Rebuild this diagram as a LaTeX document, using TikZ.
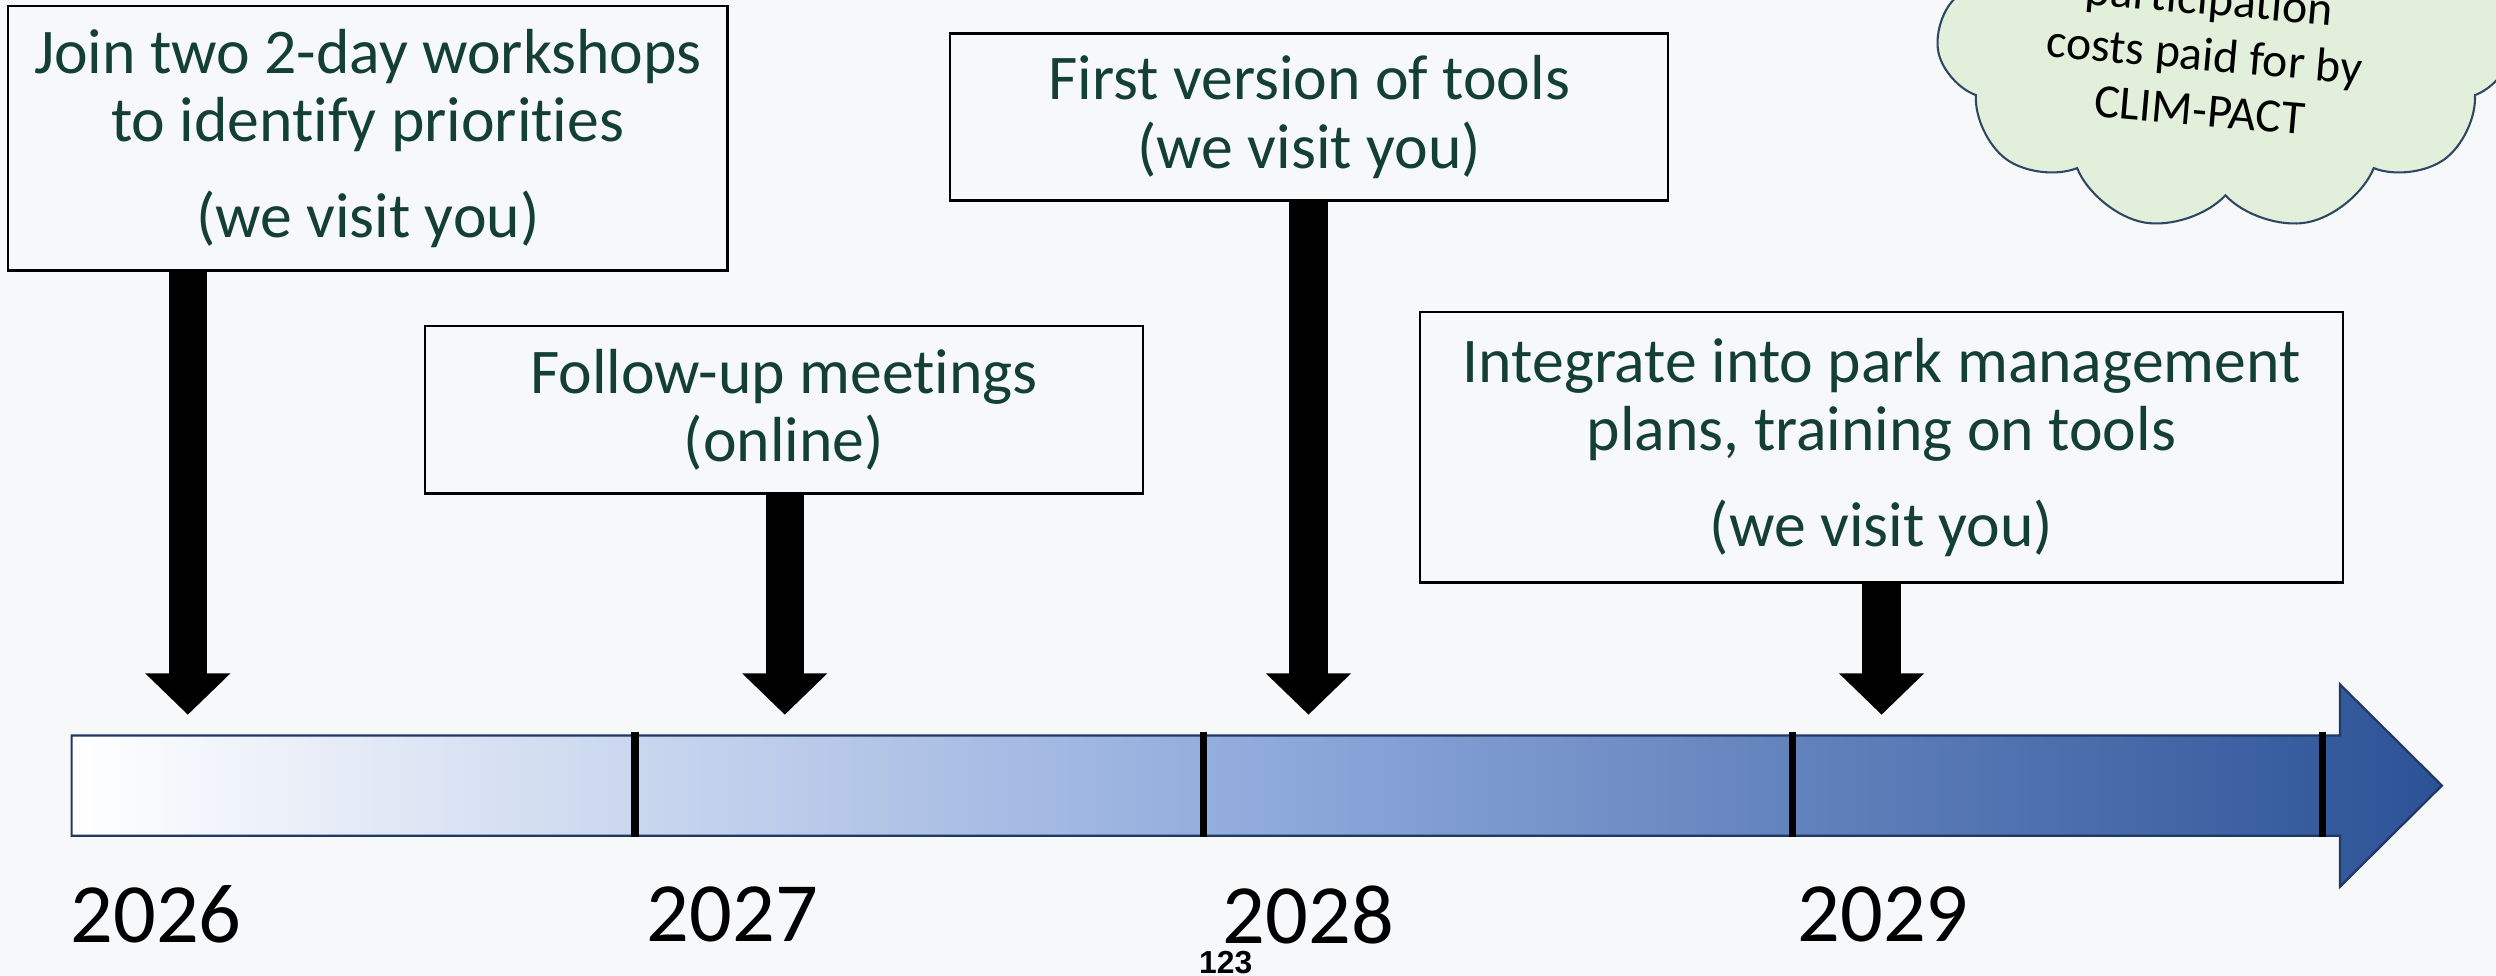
\documentclass[tikz,border=0pt]{standalone}
\usepackage{fontspec}
\setmainfont{Carlito}[Ligatures=NoCommon]
\newfontfamily\arialfont{Liberation Sans}
\usetikzlibrary{arrows.meta,shapes.symbols}
\definecolor{bgc}{RGB}{247,248,250}
\definecolor{txtgreen}{RGB}{20,64,52}
\definecolor{navy}{RGB}{31,56,100}
\definecolor{midblue}{RGB}{143,170,220}
\definecolor{darkblue}{RGB}{44,82,150}
\definecolor{cloudfill}{RGB}{226,239,218}
\definecolor{cloudline}{RGB}{45,70,100}
\pgfdeclarehorizontalshading{tlshade}{100bp}{color(0bp)=(white); color(25bp)=(white); color(50bp)=(midblue); color(75bp)=(darkblue); color(100bp)=(darkblue)}
\begin{document}
\begin{tikzpicture}[x=0.5pt,y=-0.5pt,
  box/.style={draw=black,line width=0.7pt,fill=bgc,inner sep=0pt,align=center,text=txtgreen,font=\fontsize{20pt}{21.5pt}\selectfont},
  downarrow/.style={line width=12pt,-{Triangle[width=26pt,length=13pt]}},
  yeartick/.style={line width=2.3pt},
  year/.style={font=\fontsize{26.5pt}{30pt}\selectfont,inner sep=0pt,text=black},
  timeline/.style={draw=navy,line width=0.7pt,shading=tlshade}
]
\clip (0,0) rectangle (1568,613);
\fill[bgc] (0,0) rectangle (1568,613);

% cloud
\node[cloud,cloud puffs=11,cloud puff arc=115,aspect=1.5,draw=cloudline,line width=0.65pt,fill=cloudfill,minimum width=182pt,minimum height=130pt,inner sep=0pt] (cl) at (1398,15) {};
\node[align=center,rotate=-5,font=\fontsize{15pt}{17.5pt}\selectfont,inner sep=0pt] (clt) at (1385,34) {participation\\costs paid for by\\CLIM-PACT};

% boxes
\node[box,minimum width=226pt,minimum height=83pt] (b1) at (231,87) {Join two 2-day workshops\\to identify priorities\\[8.5pt](we visit you)};
\node[box,minimum width=225.5pt,minimum height=52.5pt] (b2) at (492.5,257.5) {Follow-up meetings\\(online)};
\node[box,minimum width=225.5pt,minimum height=52.5pt] (b3) at (822.5,73.5) {First version of tools\\(we visit you)};
\node[box,minimum width=290pt,minimum height=85pt] (b4) at (1182,281) {Integrate into park management\\plans, training on tools\\[8.5pt](we visit you)};

% timeline
\draw[timeline] (45,462) -- (1470,462) -- (1470,430) -- (1534,493.5) -- (1470,557) -- (1470,525) -- (45,525) -- cycle;
\draw[yeartick] (399,460) -- (399,526);
\draw[yeartick] (756,460) -- (756,526);
\draw[yeartick] (1126,460) -- (1126,526);
\draw[yeartick] (1459,460) -- (1459,526);

% arrow ends
\coordinate (t1) at (118,449);
\coordinate (t2) at (493,449);
\coordinate (t3) at (822,449);
\coordinate (t4) at (1182,449);
\draw[downarrow] (b1.south -| t1) -- (t1);
\draw[downarrow] (b2.south -| t2) -- (t2);
\draw[downarrow] (b3.south -| t3) -- (t3);
\draw[downarrow] (b4.south -| t4) -- (t4);

% years
\node[year] (y26) at (98,574.5) {2026};
\node[year] (y27) at (460,574.5) {2027};
\node[year] (y28) at (822,574.5) {2028};
\node[year] (y29) at (1183,574.5) {2029};
\node[font=\arialfont\bfseries\fontsize{10pt}{12pt}\selectfont,inner sep=0pt] (pg) at (770,604.5) {123};
\end{tikzpicture}
\end{document}
